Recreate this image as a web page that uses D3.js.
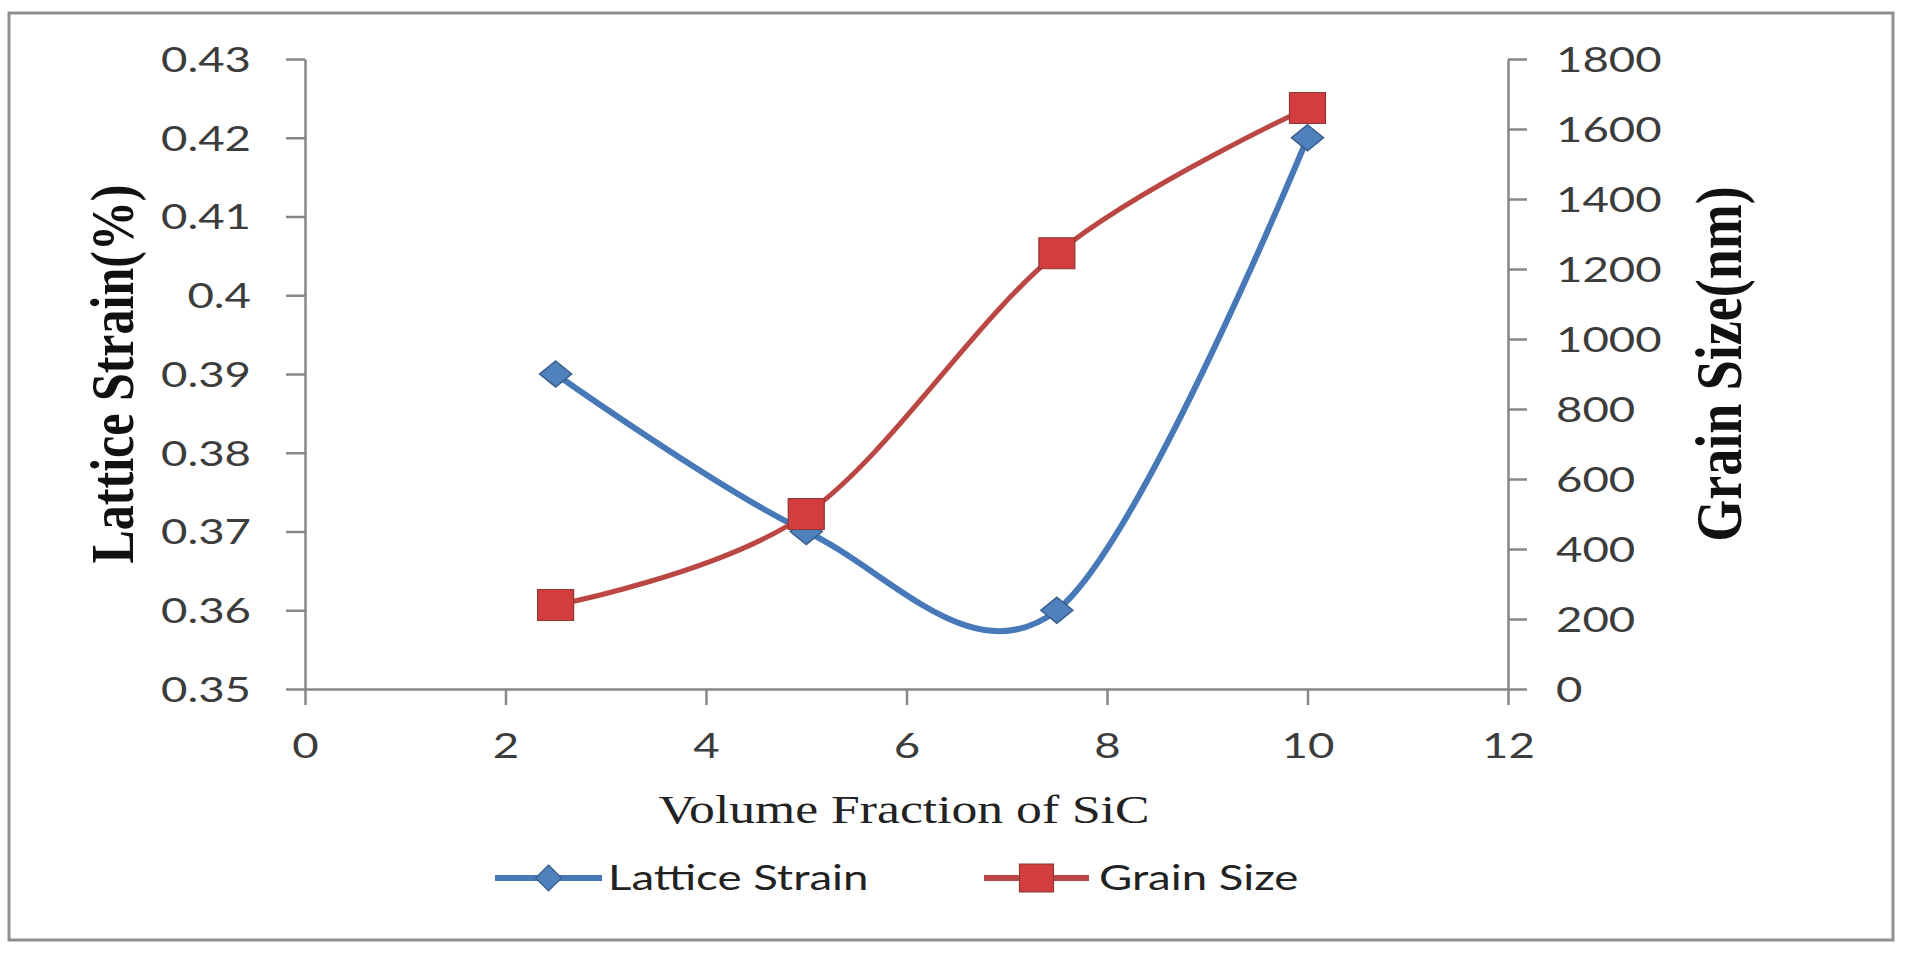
<!DOCTYPE html>
<html>
<head>
<meta charset="utf-8">
<script src="https://cdn.jsdelivr.net/npm/d3@7"></script>
<style>
  html, body { margin: 0; padding: 0; background: #ffffff; }
  svg { display: block; }
</style>
</head>
<body>
<svg id="chart" width="1920" height="972"></svg>
<script>
// ---------------- data ----------------
const volumeFraction = [2.5, 5, 7.5, 10];
const latticeStrain  = [0.39, 0.37, 0.36, 0.42];
const grainSize      = [240, 500, 1245, 1660];

const xTicks     = [0, 2, 4, 6, 8, 10, 12];
const leftTicks  = [0.35, 0.36, 0.37, 0.38, 0.39, 0.40, 0.41, 0.42, 0.43];
const rightTicks = [0, 200, 400, 600, 800, 1000, 1200, 1400, 1600, 1800];

const seriesNames = ["Lattice Strain", "Grain Size"];
const xTitle = "Volume Fraction of SiC";
const yLeftTitle = "Lattice Strain(%)";
const yRightTitle = "Grain Size(nm)";

// ---------------- styles ----------------
const SX = 1.34;          // horizontal stretch of the original picture
const SXT = 1.22;         // stretch for serif titles
const BLUE_LINE = "#4779b8", BLUE_FILL = "#4f81bd", BLUE_EDGE = "#385d8a";
const RED_LINE = "#bb4744", RED_FILL = "#d43d3d", RED_EDGE = "#8c3836";
const AXIS = "#878787", TXT = "#3c3c3c";
const sansFont = "Lato, 'Open Sans', sans-serif";
const serifFont = "'Liberation Serif', 'DejaVu Serif', serif";

const svg = d3.select("#chart");

// outer frame
svg.append("rect")
  .attr("x", 9).attr("y", 13).attr("width", 1884).attr("height", 927)
  .attr("fill", "#ffffff").attr("stroke", "#8f8f8f").attr("stroke-width", 3);

// ---------------- scales ----------------
const x  = d3.scaleLinear().domain([0, 12]).range([305, 1508]);
const yL = d3.scaleLinear().domain([0.35, 0.43]).range([689, 59]);
const yR = d3.scaleLinear().domain([0, 1800]).range([689, 59]);

function stretchTicks(g, sx) {
  g.selectAll(".tick text").each(function() {
    const t = d3.select(this);
    const xv = +t.attr("x") || 0;
    t.attr("x", xv / sx).attr("transform", `scale(${sx},1)`);
  });
}
function styleAxis(g) {
  g.select(".domain").attr("stroke", AXIS).attr("stroke-width", 2.5);
  g.selectAll(".tick line").attr("stroke", AXIS).attr("stroke-width", 2.5);
  g.selectAll(".tick text")
    .attr("fill", TXT)
    .style("font-family", sansFont)
    .style("font-size", "34px");
}

// x axis
const gx = svg.append("g").attr("transform", "translate(0,689)")
  .call(d3.axisBottom(x).tickValues(xTicks).tickSize(16).tickSizeOuter(0).tickPadding(29)
        .tickFormat(d3.format("d")));
styleAxis(gx); stretchTicks(gx, SX);

// left axis
const gl = svg.append("g").attr("transform", "translate(305,0)")
  .call(d3.axisLeft(yL).tickValues(leftTicks).tickSize(19).tickSizeOuter(0).tickPadding(35)
        .tickFormat(d => String(+d.toFixed(2))));
styleAxis(gl); stretchTicks(gl, SX);
gl.selectAll(".tick text").attr("dy", "0.36em");

// right axis
const gr = svg.append("g").attr("transform", "translate(1508,0)")
  .call(d3.axisRight(yR).tickValues(rightTicks).tickSize(19).tickSizeOuter(0).tickPadding(29)
        .tickFormat(d3.format("d")));
styleAxis(gr); stretchTicks(gr, SX);
gr.selectAll(".tick text").attr("dy", "0.36em");

// ---------------- titles ----------------
svg.append("text")
  .attr("transform", `translate(904,823) scale(1.26,1)`)
  .attr("text-anchor", "middle")
  .attr("fill", "#222")
  .style("font-family", serifFont).style("font-size", "41px")
  .text(xTitle);

svg.append("text")
  .attr("transform", `translate(133,374) scale(${SXT},1) rotate(-90)`)
  .attr("text-anchor", "middle")
  .attr("fill", "#111")
  .style("font-family", serifFont).style("font-size", "50px").style("font-weight", "bold")
  .text(yLeftTitle);

svg.append("text")
  .attr("transform", `translate(1741,364) scale(${SXT},1) rotate(-90)`)
  .attr("text-anchor", "middle")
  .attr("fill", "#111")
  .style("font-family", serifFont).style("font-size", "54px").style("font-weight", "bold")
  .text(yRightTitle);

// ---------------- series ----------------
const blueData = volumeFraction.map((v, i) => ({x: v, y: latticeStrain[i]}));
const redData  = volumeFraction.map((v, i) => ({x: v, y: grainSize[i]}));

const diamond = (hw, hh) => `M0,${-hh}L${hw},0L0,${hh}L${-hw},0Z`;
const square  = (hw, hh) => `M${-hw},${-hh}H${hw}V${hh}H${-hw}Z`;

const lineL = d3.line().x(d => x(d.x)).y(d => yL(d.y)).curve(d3.curveCardinal.tension(0));
const lineR = d3.line().x(d => x(d.x)).y(d => yR(d.y)).curve(d3.curveCardinal.tension(0));

svg.append("path").datum(blueData).attr("d", lineL)
  .attr("fill", "none").attr("stroke", BLUE_LINE).attr("stroke-width", 6)
  .attr("stroke-linejoin", "round").attr("stroke-linecap", "round");
svg.selectAll(".mk-blue").data(blueData).enter().append("path")
  .attr("class", "mk-blue")
  .attr("transform", d => `translate(${x(d.x)},${yL(d.y)})`)
  .attr("d", diamond(16, 13))
  .attr("fill", BLUE_FILL).attr("stroke", BLUE_EDGE).attr("stroke-width", 1.5);

svg.append("path").datum(redData).attr("d", lineR)
  .attr("fill", "none").attr("stroke", RED_LINE).attr("stroke-width", 5)
  .attr("stroke-linejoin", "round").attr("stroke-linecap", "round");
svg.selectAll(".mk-red").data(redData).enter().append("path")
  .attr("class", "mk-red")
  .attr("transform", d => `translate(${x(d.x)},${yR(d.y)})`)
  .attr("d", square(18, 15.5))
  .attr("fill", RED_FILL).attr("stroke", RED_EDGE).attr("stroke-width", 1.2);

// ---------------- legend ----------------
const legendItems = [
  {name: seriesNames[0], x0: 495, x1: 602, color: BLUE_LINE, fill: BLUE_FILL, edge: BLUE_EDGE, shape: diamond(13, 13), tx: 608},
  {name: seriesNames[1], x0: 984, x1: 1089, color: RED_LINE, fill: RED_FILL, edge: RED_EDGE, shape: square(17, 14), tx: 1099}
];
const lg = svg.append("g").attr("transform", "translate(0,878)");
legendItems.forEach(it => {
  lg.append("line").attr("x1", it.x0).attr("x2", it.x1).attr("y1", 0).attr("y2", 0)
    .attr("stroke", it.color).attr("stroke-width", 6);
  lg.append("path").attr("transform", `translate(${(it.x0 + it.x1) / 2},0)`)
    .attr("d", it.shape).attr("fill", it.fill).attr("stroke", it.edge).attr("stroke-width", 1.2);
  lg.append("text")
    .attr("transform", `translate(${it.tx},0) scale(${SX},1)`)
    .attr("dy", "0.36em")
    .attr("fill", "#222")
    .style("font-family", sansFont).style("font-size", "34px")
    .text(it.name);
});
</script>
</body>
</html>
